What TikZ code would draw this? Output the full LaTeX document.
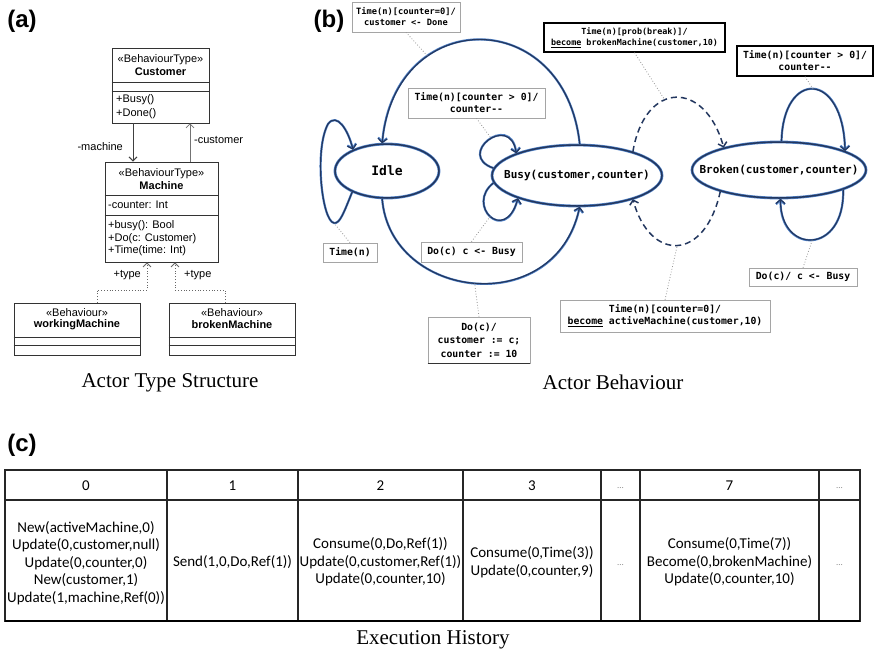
\documentclass[tikz,border=0pt]{standalone}
\usepackage{fontspec}
\setmainfont{Liberation Serif}
\newfontfamily\umlfont{Liberation Sans}
\newfontfamily\monofont{DejaVu Sans Mono}
\newfontfamily\tabfont{Carlito}
\usetikzlibrary{shapes.geometric,arrows.meta}

\definecolor{navy}{RGB}{35,55,95}
\definecolor{lblue}{RGB}{80,130,200}
\definecolor{dotgray}{RGB}{150,150,150}
\definecolor{boxgray}{RGB}{165,165,165}

\begin{document}
\begin{tikzpicture}[x=1pt,y=-1pt,
  panel/.style={font=\umlfont\bfseries\fontsize{24}{24}\selectfont, inner sep=0pt},
  caption/.style={font=\fontsize{21}{21}\selectfont, inner sep=0pt},
  umlbox/.style={draw=black!80, line width=0.8pt, inner sep=0pt},
  umlsep/.style={draw=black!80, line width=0.8pt},
  umltxt/.style={font=\umlfont\fontsize{11}{12.5}\selectfont, inner sep=0pt},
  umlbold/.style={font=\umlfont\bfseries\fontsize{11}{12.5}\selectfont, inner sep=0pt},
  assocA/.style={draw=black!75, line width=1pt, -{Straight Barb[length=4pt,width=8pt]}},
  assocB/.style={draw=black!55, line width=0.7pt, -{Straight Barb[length=4pt,width=8pt]}},
  realize/.style={draw=black!60, line width=0.8pt, dotted, -{Straight Barb[length=4pt,width=8pt]}},
  state/.style={ellipse, draw=navy, line width=1.5pt, preaction={draw=lblue, line width=2.8pt}, inner sep=0pt},
  sttext/.style={font=\monofont\bfseries\fontsize{11}{13}\selectfont, inner sep=0pt},
  trans/.style={draw=navy, line width=1.2pt, preaction={draw=lblue, line width=2.2pt},
    -{Straight Barb[length=4pt,width=9pt]}},
  dtrans/.style={draw=navy, line width=1.5pt, dash pattern=on 6pt off 4pt,
    -{Straight Barb[length=4pt,width=9pt]}},
  note/.style={draw=boxgray, line width=0.6pt, fill=white, inner sep=1pt, align=center,
    font=\monofont\bfseries\fontsize{9.8}{12}\selectfont},
  notek/.style={note, draw=black, line width=1.2pt},
  dotlink/.style={draw=dotgray, line width=0.8pt, dotted},
  tabline/.style={draw=black!85, line width=1.1pt},
  tabtxt/.style={font=\tabfont\fontsize{15}{17.5}\selectfont, align=center, inner sep=0pt},
  tabdots/.style={font=\tabfont\fontsize{9}{9}\selectfont, text=black!45, inner sep=0pt}
]
\useasboundingbox (0,0) rectangle (874,656);
\fill[white] (0,0) rectangle (874,656);

% ---------- panel letters ----------
\node[panel] (la) at (22,21) {(a)};
\node[panel] (lb) at (329,21) {(b)};
\node[panel] (lc) at (22,445) {(c)};

% ---------- (a) class diagram ----------
\node[umlbox, minimum width=97, minimum height=75] (cust) at (160.5,85.5) {};
\draw[umlsep] (cust.west |- 0,82) -- (cust.east |- 0,82);
\draw[umlsep] (cust.west |- 0,91) -- (cust.east |- 0,91);
\node[umltxt] (custst) at (160.5,60) {«BehaviourType»};
\node[umlbold] (custnm) at (160.5,72) {Customer};
\node[umltxt, anchor=west] (custm1) at (116,100) {+Busy()};
\node[umltxt, anchor=west] (custm2) at (116,114) {+Done()};

\node[umlbox, minimum width=113, minimum height=100] (mach) at (161.5,212) {};
\draw[umlsep] (mach.west |- 0,195) -- (mach.east |- 0,195);
\draw[umlsep] (mach.west |- 0,215) -- (mach.east |- 0,215);
\node[umltxt] (machst) at (161.5,174) {«BehaviourType»};
\node[umlbold] (machnm) at (161.5,186) {Machine};
\node[umltxt, anchor=west] (macha) at (108,205) {-counter: Int};
\node[umltxt, anchor=west] (machm1) at (108,226) {+busy(): Bool};
\node[umltxt, anchor=west] (machm2) at (108,238.5) {+Do(c: Customer)};
\node[umltxt, anchor=west] (machm3) at (108,251) {+Time(time: Int)};

\node[umlbox, minimum width=126, minimum height=52] (wm) at (77,329) {};
\draw[umlsep] (wm.west |- 0,337) -- (wm.east |- 0,337);
\draw[umlsep] (wm.west |- 0,345) -- (wm.east |- 0,345);
\node[umltxt] (wmst) at (77,313) {«Behaviour»};
\node[umlbold] (wmnm) at (77,325) {workingMachine};

\node[umlbox, minimum width=126, minimum height=52] (bm) at (232,329) {};
\draw[umlsep] (bm.west |- 0,337) -- (bm.east |- 0,337);
\draw[umlsep] (bm.west |- 0,345) -- (bm.east |- 0,345);
\node[umltxt] (bmst) at (232,313) {«Behaviour»};
\node[umlbold] (bmnm) at (232,325) {brokenMachine};

\draw[assocA] (cust.south -| 133,0) -- (mach.north -| 133,0);
\draw[assocB] (mach.north -| 190,0) -- (cust.south -| 190,0);
\node[umltxt, anchor=east] (lmach) at (123,147) {-machine};
\node[umltxt, anchor=west] (lcust) at (194,140) {-customer};

\draw[realize] (wm.north -| 97,0) |- (147,290) -- (mach.south -| 147,0);
\draw[realize] (bm.north -| 225,0) |- (175,290) -- (mach.south -| 175,0);
\node[umltxt, anchor=east] (ty1) at (141,275) {+type};
\node[umltxt, anchor=west] (ty2) at (184,275) {+type};

\node[caption] (capa) at (170,383) {Actor Type Structure};

% ---------- (b) state machine ----------
\node[state, minimum width=104, minimum height=54] (idle) at (387,171) {};
\node[sttext, font=\monofont\bfseries\fontsize{13}{15}\selectfont] (idlet) at (idle) {Idle};
\node[state, minimum width=170, minimum height=61] (busy) at (577,175.5) {};
\node[sttext] (busyt) at (busy) {Busy(customer,counter)};
\node[state, minimum width=174, minimum height=56] (broken) at (779,170) {};
\node[sttext] (brokent) at (broken) {Broken(customer,counter)};

% Idle: Time(n) self loop
\draw[trans] (idle.211) .. controls (344,212) and (340,224) .. (334,223) coordinate (iloop)
  .. controls (322,221) and (314,150) .. (328,124)
  .. controls (337,112) and (348,130) .. (idle.148);
% Idle -> Busy on Do(c)
\draw[trans] (idle.-100) .. controls (390,300) and (555,320) .. (busy.-85)
  coordinate[pos=0.5] (arcdo);
% Busy -> Idle when the counter reaches 0
\draw[trans] (busy.85) .. controls (565,5) and (395,5) .. (idle.100)
  coordinate[pos=0.7] (arcdone);
% Busy self loops
\draw[trans] (busy.175) .. controls (455,155) and (510,112) .. (busy.160)
  coordinate[pos=0.55] (bloopt);
\draw[trans] (busy.185) .. controls (465,205) and (505,245) .. (busy.201)
  coordinate[pos=0.5] (bloopb);
% Busy <-> Broken
\draw[dtrans] (busy.23) .. controls (645,80) and (705,80) .. (broken.158)
  coordinate[pos=0.4] (tobroken);
\draw[dtrans] (broken.200) .. controls (705,262) and (650,262) .. (busy.-23)
  coordinate[pos=0.5] (toactive);
% Broken self loops
\draw[trans] (broken.85) .. controls (783,70) and (843,70) .. (broken.16)
  coordinate[pos=0.5] (kloopt);
\draw[trans] (broken.-17) .. controls (845,255) and (780,255) .. (broken.-87)
  coordinate[pos=0.5] (kloopb);

% transition notes
\node[note, minimum width=108, minimum height=30, font=\monofont\bfseries\fontsize{8.7}{11}\selectfont]
  (n1) at (406,17) {Time(n)[counter=0]/\\customer <- Done};
\node[note, minimum width=137, minimum height=30] (n2) at (476.5,103)
  {Time(n)[counter > 0]/\\counter-{}-};
\node[notek, minimum width=181, minimum height=29, font=\monofont\bfseries\fontsize{8.4}{11}\selectfont]
  (n3) at (634.5,37.5) {Time(n)[prob(break)]/\\\underline{become} brokenMachine(customer,10)};
\node[notek, minimum width=136, minimum height=30] (n4) at (805,61)
  {Time(n)[counter > 0]/\\counter-{}-};
\node[note, minimum width=54, minimum height=19] (n5) at (350,252.5) {Time(n)};
\node[note, minimum width=101, minimum height=20] (n6) at (471.5,252) {Do(c) c <- Busy};
\node[note, minimum width=102, minimum height=46, font=\monofont\bfseries\fontsize{9.8}{13.5}\selectfont]
  (n7) at (479,340) {Do(c)/\\customer := c;\\counter := 10};
\draw[draw=black!80, line width=1.6pt] (n7.south west) -- (n7.south east);
\node[note, minimum width=210, minimum height=32] (n8) at (665,316)
  {Time(n)[counter=0]/\\\underline{become} activeMachine(customer,10)};
\node[note, minimum width=108, minimum height=18] (n9) at (803,277) {Do(c)/ c <- Busy};

\draw[dotlink] (n1.south) -- (arcdone);
\draw[dotlink] (n2.south) -- (bloopt);
\draw[dotlink] (n3.south) -- (tobroken);
\draw[dotlink] (n4.south) -- (kloopt);
\draw[dotlink] (n5.north) -- (iloop);
\draw[dotlink] (n6.north) -- (bloopb);
\draw[dotlink] (n7.north) -- (arcdo);
\draw[dotlink] (n8.north) -- (toactive);
\draw[dotlink] (n9.north) -- (kloopb);

\node[caption] (capb) at (613,382) {Actor Behaviour};

% ---------- (c) execution history ----------
\draw[tabline] (5,470) rectangle (860,621);
\draw[tabline] (5,500) -- (860,500);
\foreach \x in {167,298,463,601,640,819} \draw[tabline] (\x,470) -- (\x,621);
\draw[draw=black, line width=2pt] (5,621) -- (860,621);

\node[tabtxt] (h0) at (86,486) {0};
\node[tabtxt] (h1) at (232.5,486) {1};
\node[tabtxt] (h2) at (380.5,486) {2};
\node[tabtxt] (h3) at (532,486) {3};
\node[tabdots] (h4) at (620.5,488) {...};
\node[tabtxt] (h5) at (729.5,486) {7};
\node[tabdots] (h6) at (839.5,488) {...};

\node[tabtxt] (c0) at (86,563) {New(activeMachine,0)\\Update(0,customer,null)\\Update(0,counter,0)\\New(customer,1)\\Update(1,machine,Ref(0))};
\node[tabtxt] (c1) at (232.5,562) {Send(1,0,Do,Ref(1))};
\node[tabtxt] (c2) at (380.5,562) {Consume(0,Do,Ref(1))\\Update(0,customer,Ref(1))\\Update(0,counter,10)};
\node[tabtxt] (c3) at (532,562) {Consume(0,Time(3))\\Update(0,counter,9)};
\node[tabdots] (c4) at (620.5,565) {...};
\node[tabtxt] (c5) at (729.5,562) {Consume(0,Time(7))\\Become(0,brokenMachine)\\Update(0,counter,10)};
\node[tabdots] (c6) at (839.5,565) {...};

\node[caption] (capc) at (433,640) {Execution History};
\end{tikzpicture}
\end{document}
